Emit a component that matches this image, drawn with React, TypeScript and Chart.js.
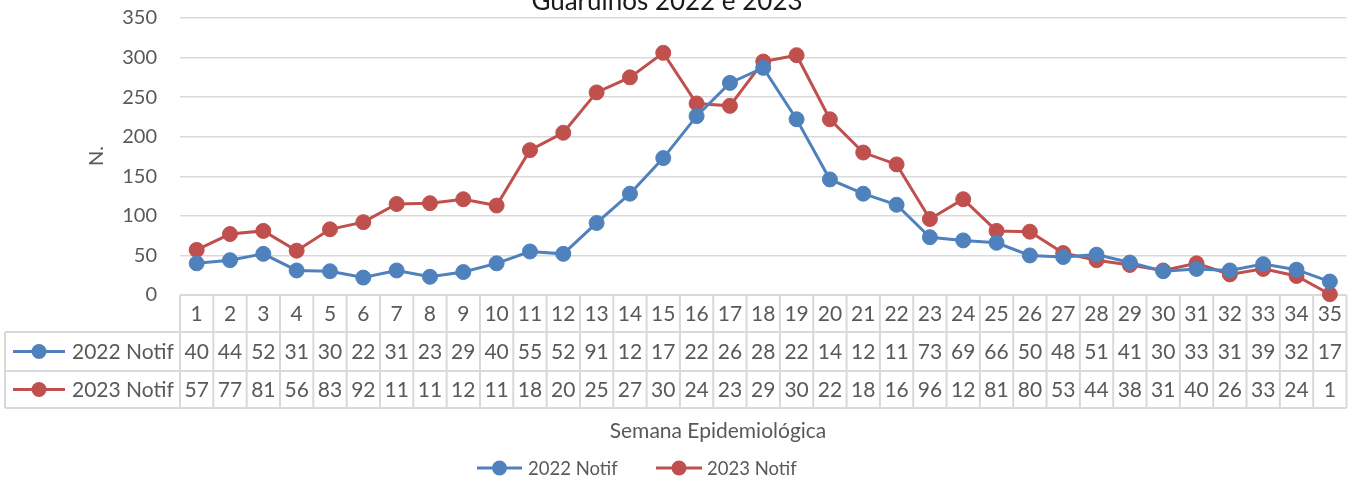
import React, { useEffect, useRef } from "react";
import { Chart, registerables } from "chart.js";

Chart.register(...registerables);

const chartTitle = "Guarulhos 2022 e 2023";
const xAxisTitle = "Semana Epidemiológica";
const yAxisTitle = "N.";
const weeks = [
  "1", "2", "3", "4", "5", "6", "7", "8", "9", "10", "11", "12", "13", "14", "15", "16", "17", "18",
  "19", "20", "21", "22", "23", "24", "25", "26", "27", "28", "29", "30", "31", "32", "33", "34", "35",
];
const notif2022 = [
  40, 44, 52, 31, 30, 22, 31, 23, 29, 40, 55, 52, 91, 128, 173, 226, 268, 287, 222, 146, 128, 114,
  73, 69, 66, 50, 48, 51, 41, 30, 33, 31, 39, 32, 17,
];
const notif2023 = [
  57, 77, 81, 56, 83, 92, 115, 116, 121, 113, 183, 205, 256, 275, 306, 242, 239, 295, 303, 222,
  180, 165, 96, 121, 81, 80, 53, 44, 38, 31, 40, 26, 33, 24, 1,
];
const seriesNames = ["2022 Notif", "2023 Notif"];
const seriesColors = ["#4F81BD", "#C0504D"];
const yMin = 0;
const yMax = 350;
const yStep = 50;

const FONT = "Lato, 'Open Sans', sans-serif";
const TEXT = "#595959";
const GRID = "#D9D9D9";

function drawKey(ctx: CanvasRenderingContext2D, x1: number, x2: number, y: number, color: string) {
  ctx.save();
  ctx.strokeStyle = color;
  ctx.lineWidth = 3;
  ctx.beginPath();
  ctx.moveTo(x1, y);
  ctx.lineTo(x2, y);
  ctx.stroke();
  ctx.fillStyle = color;
  ctx.beginPath();
  ctx.arc((x1 + x2) / 2, y, 7.5, 0, Math.PI * 2);
  ctx.fill();
  ctx.restore();
}

function tableRows(area: any) {
  return [area.bottom, area.bottom + 37, area.bottom + 76, area.bottom + 113];
}

const extrasPlugin = {
  id: "extras",
  beforeDatasetsDraw(chart: any) {
    const ctx: CanvasRenderingContext2D = chart.ctx;
    const area = chart.chartArea;
    const n = weeks.length;
    const cellW = (area.right - area.left) / n;
    const rows = tableRows(area);
    const leftX = 5;
    ctx.save();
    ctx.strokeStyle = GRID;
    ctx.lineWidth = 2;
    ctx.beginPath();
    ctx.moveTo(area.left, rows[0]);
    ctx.lineTo(area.right, rows[0]);
    for (let r = 1; r < rows.length; r++) {
      ctx.moveTo(leftX, rows[r]);
      ctx.lineTo(area.right, rows[r]);
    }
    for (let k = 0; k <= n; k++) {
      const x = area.left + k * cellW;
      ctx.moveTo(x, rows[0]);
      ctx.lineTo(x, rows[3]);
    }
    ctx.moveTo(leftX, rows[1]);
    ctx.lineTo(leftX, rows[3]);
    ctx.stroke();
    ctx.restore();
  },
  afterDraw(chart: any) {
    const ctx: CanvasRenderingContext2D = chart.ctx;
    const area = chart.chartArea;
    const n = weeks.length;
    const cellW = (area.right - area.left) / n;
    const rows = tableRows(area);

    ctx.save();
    // Title (partially cut at top as in reference)
    ctx.fillStyle = "#1a1a1a";
    ctx.font = `26px ${FONT}`;
    ctx.textAlign = "center";
    ctx.textBaseline = "alphabetic";
    ctx.fillText(chartTitle, 667, 10);

    // Y axis title
    ctx.save();
    ctx.translate(97, 156);
    ctx.rotate(-Math.PI / 2);
    ctx.fillStyle = TEXT;
    ctx.font = `20px ${FONT}`;
    ctx.textAlign = "center";
    ctx.textBaseline = "middle";
    ctx.fillText(yAxisTitle, 0, 0);
    ctx.restore();

    // Table text
    ctx.fillStyle = TEXT;
    ctx.font = `21px ${FONT}`;
    ctx.textAlign = "center";
    ctx.textBaseline = "middle";
    const fit = (s: string) => {
      let t = s;
      while (t.length > 1 && ctx.measureText(t).width > cellW - 4) t = t.slice(0, -1);
      return t;
    };
    const series = [notif2022, notif2023];
    for (let i = 0; i < n; i++) {
      const cx = area.left + (i + 0.5) * cellW;
      ctx.fillText(fit(weeks[i]), cx, (rows[0] + rows[1]) / 2 + 1);
      for (let s = 0; s < series.length; s++) {
        ctx.fillText(fit(String(series[s][i])), cx, (rows[s + 1] + rows[s + 2]) / 2 + 1);
      }
    }
    // Row headers
    for (let s = 0; s < series.length; s++) {
      const cy = (rows[s + 1] + rows[s + 2]) / 2;
      drawKey(ctx, 13, 65, cy, seriesColors[s]);
      ctx.fillStyle = TEXT;
      ctx.textAlign = "left";
      ctx.fillText(seriesNames[s], 72, cy + 1);
    }

    // X axis title
    ctx.textAlign = "center";
    ctx.font = `21px ${FONT}`;
    ctx.fillText(xAxisTitle, 718, 431);

    // Legend
    ctx.font = `18.5px ${FONT}`;
    ctx.textAlign = "left";
    const legendY = 468;
    const legendItems = [
      { x1: 477, x2: 522, tx: 528 },
      { x1: 656, x2: 702, tx: 707 },
    ];
    legendItems.forEach((it, s) => {
      drawKey(ctx, it.x1, it.x2, legendY, seriesColors[s]);
      ctx.fillStyle = TEXT;
      ctx.fillText(seriesNames[s], it.tx, legendY + 1);
    });
    ctx.restore();
  },
};

export default function App() {
  const canvasRef = useRef<HTMLCanvasElement | null>(null);

  useEffect(() => {
    let chart: Chart | null = null;
    let cancelled = false;
    const make = () => {
      if (cancelled || !canvasRef.current) return;
      chart = new Chart(canvasRef.current, {
        type: "line",
        data: {
          labels: weeks,
          datasets: [notif2022, notif2023].map((d, i) => ({
            label: seriesNames[i],
            data: d,
            borderColor: seriesColors[i],
            backgroundColor: seriesColors[i],
            pointBackgroundColor: seriesColors[i],
            pointBorderColor: seriesColors[i],
            borderWidth: 3,
            pointRadius: 7.5,
            pointBorderWidth: 1,
            tension: 0,
            clip: false,
          })),
        },
        options: {
          responsive: false,
          animation: false,
          devicePixelRatio: 1,
          layout: { padding: { left: 80, right: 5, top: 18, bottom: 188 } },
          plugins: { legend: { display: false }, title: { display: false }, tooltip: { enabled: false } },
          scales: {
            x: { display: false, offset: true },
            y: {
              min: yMin,
              max: yMax,
              afterFit: (s: any) => {
                s.width = 100;
              },
              ticks: {
                stepSize: yStep,
                color: TEXT,
                padding: 0,
                font: { family: FONT, size: 20 },
              },
              grid: {
                color: GRID,
                lineWidth: 1.5,
                drawTicks: true,
                tickLength: 23,
                tickColor: "rgba(0,0,0,0)",
              },
              border: { display: false },
            },
          },
        },
        plugins: [extrasPlugin],
      });
    };
    const fonts = (document as any).fonts;
    if (fonts && fonts.load) {
      Promise.all([fonts.load(`20px Lato`), fonts.load(`26px Lato`)]).then(make, make);
    } else {
      make();
    }
    return () => {
      cancelled = true;
      if (chart) chart.destroy();
    };
  }, []);

  return (
    <div style={{ position: "fixed", left: 0, top: 0, width: 1355, height: 483, background: "#fff" }}>
      <canvas ref={canvasRef} width={1355} height={483} style={{ width: 1355, height: 483 }} />
    </div>
  );
}
